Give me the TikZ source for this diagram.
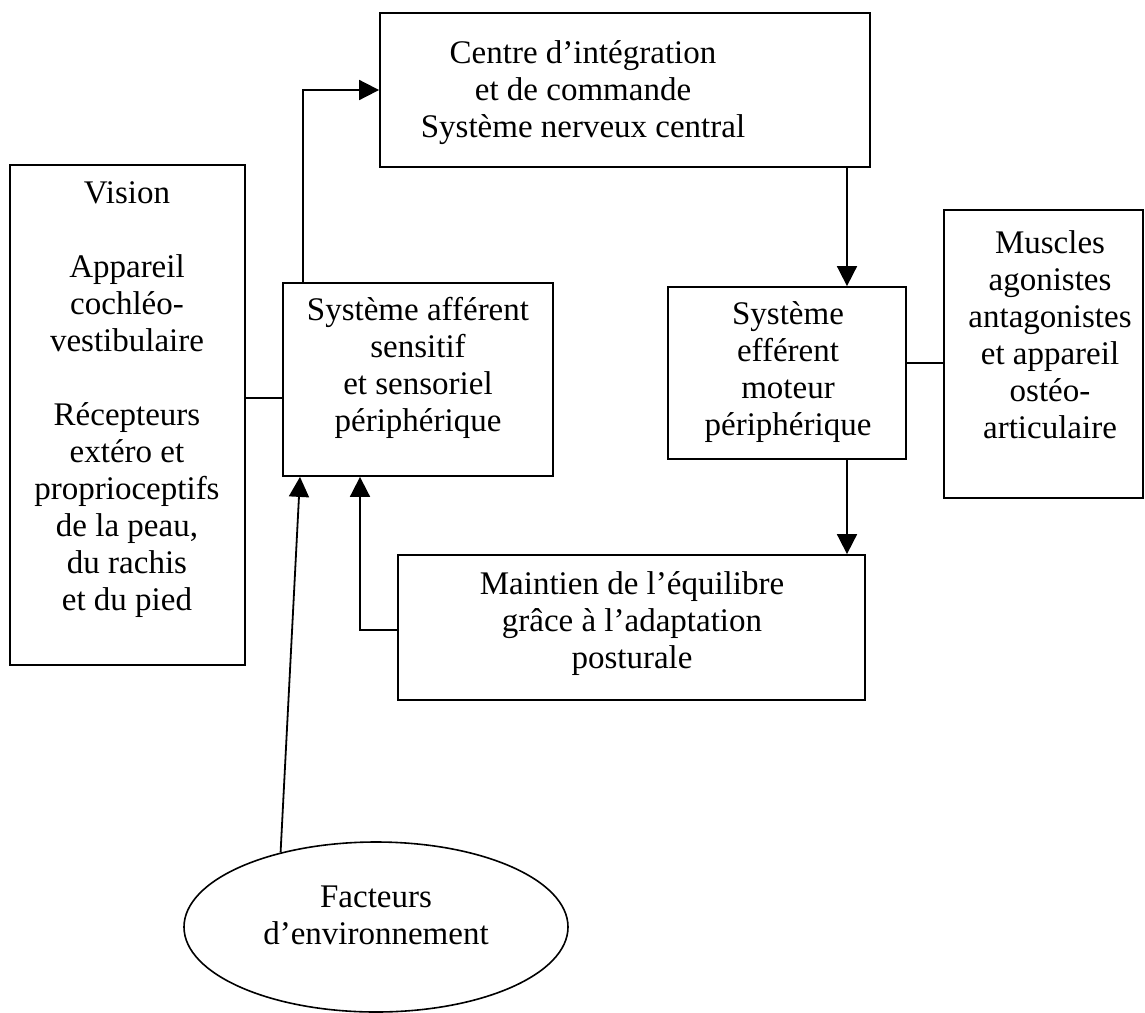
\documentclass[tikz,border=0pt]{standalone}
\usepackage{fontspec}
\setmainfont{Liberation Serif}
\usetikzlibrary{arrows.meta,shapes.geometric}
\begin{document}
\begin{tikzpicture}[x=1pt,y=-1pt,
  box/.style={draw,line width=1.8pt,rectangle,inner sep=0pt},
  oval/.style={draw,line width=1.6pt,ellipse,inner sep=0pt},
  lbl/.style={align=center,font=\fontsize{33}{37}\selectfont,inner sep=0pt},
  conn/.style={line width=1.8pt},
  arr/.style={line width=1.8pt,-{Triangle[length=20pt,width=20pt]}}]
\useasboundingbox (0,0) rectangle (1145,1012);
% boxes
\node[box,minimum width=490pt,minimum height=154pt] (top) at (625,90) {};
\node[box,minimum width=235pt,minimum height=500pt] (left) at (127.5,415) {};
\node[box,minimum width=270pt,minimum height=193pt] (aff) at (418,379.5) {};
\node[box,minimum width=238pt,minimum height=172pt] (eff) at (787,373) {};
\node[box,minimum width=199pt,minimum height=288pt] (mus) at (1043.5,354) {};
\node[box,minimum width=467pt,minimum height=145pt] (main) at (631.5,627.5) {};
\node[oval,minimum width=384pt,minimum height=170pt] (env) at (376,927) {};
% texts
\node[lbl] (toptxt) at (583,93) {Centre d’intégration\\et de commande\\Système nerveux central};
\node[lbl] (lefttxt) at (127,400) {Vision\\[37pt]Appareil\\cochléo-\\vestibulaire\\[37pt]Récepteurs\\extéro et\\proprioceptifs\\de la peau,\\du rachis\\et du pied};
\node[lbl] (afftxt) at (418,368) {Système afférent\\sensitif\\et sensoriel\\périphérique};
\node[lbl] (efftxt) at (788,372) {Système\\efférent\\moteur\\périphérique};
\node[lbl] (mustxt) at (1050,335) {Muscles\\agonistes\\antagonistes\\et appareil\\ostéo-\\articulaire};
\node[lbl] (maintxt) at (632,624) {Maintien de l’équilibre\\grâce à l’adaptation\\posturale};
\node[lbl] (envtxt) at (376,915) {Facteurs\\d’environnement};
% helper coordinates
\coordinate (cA) at (847,0);
\coordinate (cB) at (0,398);
\coordinate (cC) at (0,363);
\coordinate (cD) at (0,630);
\coordinate (cE) at (360,0);
\coordinate (cF) at (300,0);
\coordinate (cG) at (303,0);
% connectors
\draw[arr] (aff.north -| cG) |- (top.west);
\draw[arr] (top.south -| cA) -- (eff.north -| cA);
\draw[conn] (left.east |- cB) -- (aff.west |- cB);
\draw[conn] (eff.east |- cC) -- (mus.west |- cC);
\draw[arr] (eff.south -| cA) -- (main.north -| cA);
\draw[arr] (main.west |- cD) -| (aff.south -| cE);
\draw[arr] (env.142) -- (aff.south -| cF);
\end{tikzpicture}
\end{document}
